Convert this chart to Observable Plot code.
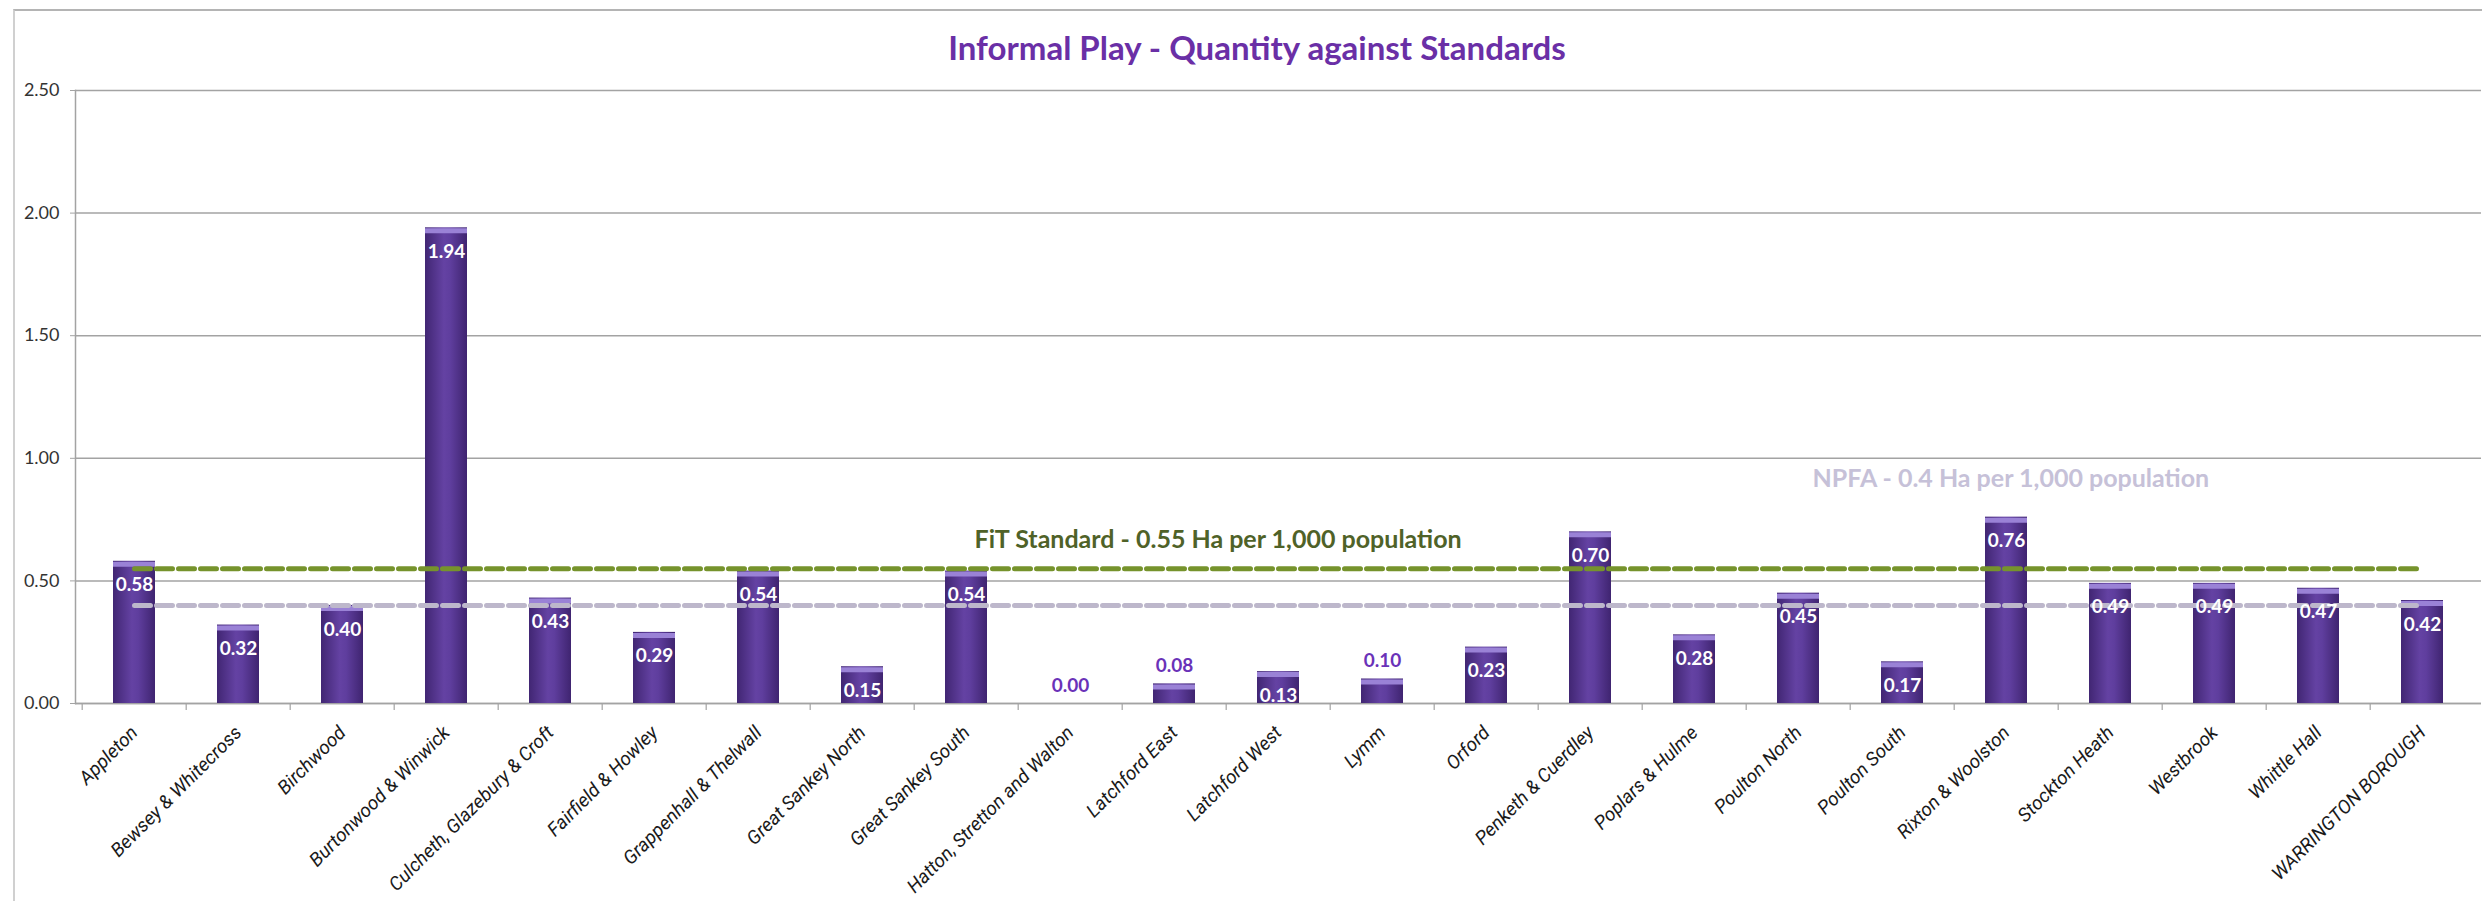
<!DOCTYPE html>
<html>
<head>
<meta charset="utf-8">
<script src="https://cdn.jsdelivr.net/npm/d3@7"></script>
<script src="https://cdn.jsdelivr.net/npm/@observablehq/plot@0.6"></script>
<style>
  html, body { margin: 0; padding: 0; background: #fff; }
  #wrap { position: relative; width: 2482px; height: 901px; overflow: hidden; background: #fff; font-family: Lato, "Open Sans", sans-serif; }
  #frame { position: absolute; left: 13px; top: 9px; right: 0; bottom: 0; border-top: 2px solid #b4b4b4; border-left: 2px solid #d0d0d0; pointer-events: none; }
  #title { position: relative; height: 80px; line-height: 94px; text-align: center; padding-left: 32px; font-size: 33px; font-weight: bold; color: #6a2fa6; white-space: nowrap; }
  #chart { position: relative; }
</style>
</head>
<body>
<div id="wrap">
  <div id="frame"></div>
  <div id="title">Informal Play - Quantity against Standards</div>
  <div id="chart"></div>
</div>
<script>
// ---- data ----
const wards = [
  "Appleton", "Bewsey & Whitecross", "Birchwood", "Burtonwood & Winwick",
  "Culcheth, Glazebury & Croft", "Fairfield & Howley", "Grappenhall & Thelwall",
  "Great Sankey North", "Great Sankey South", "Hatton, Stretton and Walton",
  "Latchford East", "Latchford West", "Lymm", "Orford", "Penketh & Cuerdley",
  "Poplars & Hulme", "Poulton North", "Poulton South", "Rixton & Woolston",
  "Stockton Heath", "Westbrook", "Whittle Hall", "WARRINGTON BOROUGH"
];
const quantity = [0.58, 0.32, 0.40, 1.94, 0.43, 0.29, 0.54, 0.15, 0.54, 0.00,
  0.08, 0.13, 0.10, 0.23, 0.70, 0.28, 0.45, 0.17, 0.76, 0.49, 0.49, 0.47, 0.42];
const yTicks = [0, 0.5, 1.0, 1.5, 2.0, 2.5];
const fitStandard = 0.55;
const npfaStandard = 0.4;
const fitLabel = "FiT Standard - 0.55 Ha per 1,000 population";
const npfaLabel = "NPFA - 0.4 Ha per 1,000 population";
const fitLabelAnchor = "Great Sankey South";
const npfaLabelAnchor = "Poulton North";

const rows = wards.map((w, i) => ({ward: w, v: quantity[i]}));
const fitRows = wards.map(w => ({ward: w, v: fitStandard}));
const npfaRows = wards.map(w => ({ward: w, v: npfaStandard}));

const W = 2482, H = 821, mL = 75, mR = 1, mT = 10, mB = 198;
const step = (W - mL - mR) / wards.length;
const fmt = d3.format(".2f");
const font = "Lato, 'Open Sans', sans-serif";

const plot = Plot.plot({
  width: W, height: H,
  marginLeft: mL, marginRight: mR, marginTop: mT, marginBottom: mB,
  style: {fontFamily: font, background: "transparent", overflow: "visible"},
  x: {type: "band", domain: wards, paddingInner: 0.6, paddingOuter: 0.3, label: null},
  y: {domain: [0, 2.5], label: null},
  marks: [
    Plot.gridY(yTicks, {stroke: "#a3a3a3", strokeOpacity: 1, strokeWidth: 1.5}),
    Plot.frame({anchor: "left", stroke: "#a3a3a3", strokeWidth: 1.5}),
    Plot.ruleY([0], {stroke: "#a3a3a3", strokeWidth: 1.5}),
    Plot.ruleX(wards, {x: d => d, dx: -step / 2, y1: 0, y2: 0, insetBottom: -7, stroke: "#a3a3a3", strokeWidth: 1.2}),
    Plot.axisY(yTicks, {tickFormat: fmt, tickSize: 5, tickPadding: 11, fontSize: 18, fill: "#333", stroke: "#a3a3a3"}),
    Plot.axisX({tickSize: 0, tickPadding: 26, tickRotate: -45, fontSize: 19, fontStyle: "italic", fontFamily: "Roboto, Lato, sans-serif", fill: "#1a1a1a"}),
    Plot.barY(rows, {x: "ward", y: "v", fill: "url(#barGrad)"}),
    Plot.tickY(rows.filter(d => d.v > 0), {x: "ward", y: "v", dy: 3, stroke: "#9a82d6", strokeWidth: 5}),
    Plot.lineY(npfaRows, {x: "ward", y: "v", stroke: "#bdb7cb", strokeWidth: 5, strokeDasharray: "16,6"}),
    Plot.lineY(fitRows, {x: "ward", y: "v", stroke: "#76932c", strokeWidth: 5, strokeDasharray: "16,6"}),
    Plot.text(rows.filter(d => d.v >= 0.12), {x: "ward", y: "v", text: d => fmt(d.v), dy: 24, fill: "#ffffff", fontWeight: "bold", fontSize: 19}),
    Plot.text(rows.filter(d => d.v < 0.12), {x: "ward", y: "v", text: d => fmt(d.v), dy: -18, fill: "#6a32b8", fontWeight: "bold", fontSize: 19}),
    Plot.text([{ward: fitLabelAnchor, v: fitStandard}], {x: "ward", y: "v", text: () => fitLabel, textAnchor: "start", dx: 8, dy: -29, fill: "#4f6228", fontWeight: "bold", fontSize: 25}),
    Plot.text([{ward: npfaLabelAnchor, v: npfaStandard}], {x: "ward", y: "v", text: () => npfaLabel, textAnchor: "start", dx: 14, dy: -126, fill: "#c6c1d8", fontWeight: "bold", fontSize: 25})
  ]
});

// gradient for cylinder-like bars
const ns = "http://www.w3.org/2000/svg";
const defs = document.createElementNS(ns, "defs");
const grad = document.createElementNS(ns, "linearGradient");
grad.setAttribute("id", "barGrad");
grad.setAttribute("x1", "0"); grad.setAttribute("x2", "1");
grad.setAttribute("y1", "0"); grad.setAttribute("y2", "0");
[["0", "#412673"], ["0.45", "#6442a3"], ["0.6", "#5f3e9e"], ["1", "#3f2470"]].forEach(([o, c]) => {
  const s = document.createElementNS(ns, "stop");
  s.setAttribute("offset", o); s.setAttribute("stop-color", c);
  grad.appendChild(s);
});
defs.appendChild(grad);
plot.insertBefore(defs, plot.firstChild);

document.getElementById("chart").appendChild(plot);
</script>
</body>
</html>
